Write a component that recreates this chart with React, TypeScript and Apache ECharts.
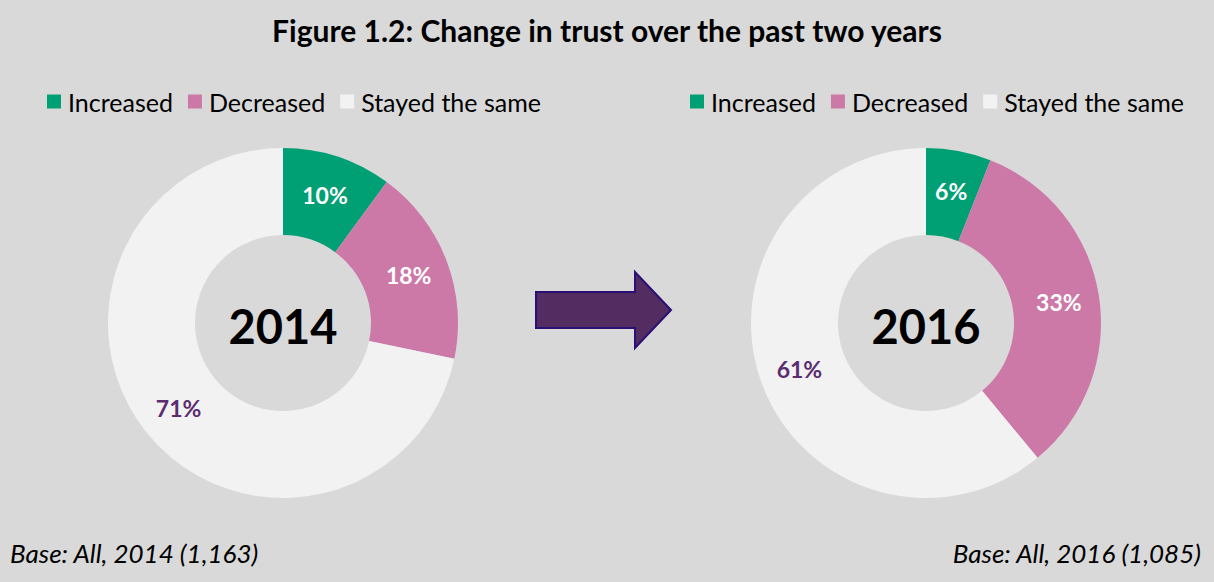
import React, { useEffect, useRef } from "react";
import * as echarts from "echarts";

const categories = ["Increased", "Decreased", "Stayed the same"];
const values2014 = [10, 18, 71];
const values2016 = [6, 33, 61];
const years = ["2014", "2016"];
const baseNotes = ["Base: All, 2014 (1,163)", "Base: All, 2016 (1,085)"];
const titleText = "Figure 1.2: Change in trust over the past two years";

const colors = ["#00a074", "#cc79a7", "#f2f2f2"];
const labelColors = ["#ffffff", "#ffffff", "#5b2c6f"];
const FONT = "Lato, 'Open Sans', sans-serif";

export default function App() {
  const ref = useRef<HTMLDivElement>(null);
  useEffect(() => {
    if (!ref.current) return;
    const chart = echarts.init(ref.current, undefined, { renderer: "svg" });
    const mkData = (vals: number[]) =>
      vals.map((v, i) => ({
        name: categories[i],
        value: v,
        itemStyle: { color: colors[i] },
        label: { color: labelColors[i] },
      }));
    const mkSeries = (vals: number[], cx: number) => ({
      type: "pie",
      center: [cx, 323],
      radius: [88, 175],
      startAngle: 90,
      clockwise: true,
      avoidLabelOverlap: false,
      label: {
        show: true,
        position: "inside",
        formatter: "{c}%",
        fontFamily: FONT,
        fontWeight: "bold",
        fontSize: 23,
      },
      labelLine: { show: false },
      emphasis: { disabled: true },
      data: mkData(vals),
    });
    const legendBase = {
      icon: "rect",
      itemWidth: 14,
      itemHeight: 14,
      itemGap: 15,
      top: 89,
      padding: 0,
      data: categories,
      selectedMode: false,
      textStyle: { fontFamily: FONT, fontSize: 25, color: "#000", padding: [0, 0, 0, 2] },
    };
    chart.setOption({
      animation: false,
      backgroundColor: "#d9d9d9",
      color: colors,
      title: {
        text: titleText,
        left: "center",
        top: 10,
        textStyle: { fontFamily: FONT, fontWeight: "bold", fontSize: 30, color: "#000" },
      },
      legend: [
        { ...legendBase, left: 47 },
        { ...legendBase, left: 690 },
      ],
      series: [mkSeries(values2014, 283), mkSeries(values2016, 926)],
      graphic: [
        {
          type: "text",
          x: 283,
          y: 326,
          style: {
            text: years[0],
            fontFamily: FONT,
            fontWeight: "bold",
            fontSize: 47,
            fill: "#000",
            align: "center",
            verticalAlign: "middle",
          },
        },
        {
          type: "text",
          x: 926,
          y: 326,
          style: {
            text: years[1],
            fontFamily: FONT,
            fontWeight: "bold",
            fontSize: 47,
            fill: "#000",
            align: "center",
            verticalAlign: "middle",
          },
        },
        {
          type: "polygon",
          shape: {
            points: [
              [536, 292],
              [635, 292],
              [635, 272],
              [671, 310],
              [635, 348],
              [635, 328],
              [536, 328],
            ],
          },
          style: { fill: "#532d61", stroke: "#2a0f75", lineWidth: 2 },
        },
        {
          type: "text",
          x: 10,
          y: 553,
          style: {
            text: baseNotes[0],
            fontFamily: FONT,
            fontStyle: "italic",
            fontSize: 26,
            fill: "#000",
            align: "left",
            verticalAlign: "middle",
          },
        },
        {
          type: "text",
          x: 1201,
          y: 553,
          style: {
            text: baseNotes[1],
            fontFamily: FONT,
            fontStyle: "italic",
            fontSize: 26,
            fill: "#000",
            align: "right",
            verticalAlign: "middle",
          },
        },
      ],
    });
    return () => chart.dispose();
  }, []);
  return (
    <div
      ref={ref}
      style={{ position: "fixed", left: 0, top: 0, width: 1214, height: 582 }}
    />
  );
}
